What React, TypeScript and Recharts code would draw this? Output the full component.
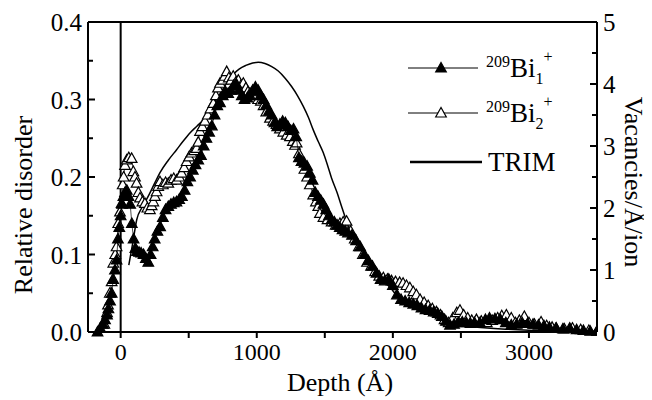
import { ComposedChart, Scatter, Line, XAxis, YAxis, ReferenceLine, Label } from 'recharts'

// depth in Å
const bi1Depth = [
  -170, -150, -130, -115, -100, -90, -78, -66, -55, -42, -30, -20, -10, 0, 10, 20, 32, 45, 58, 70,
  82, 95, 108, 120, 135, 150, 168, 185, 203, 220, 235, 250, 270, 290, 310, 330, 350, 370, 390, 410,
  430, 450, 470, 490, 510, 530, 550, 570, 590, 610, 630, 650, 670, 690, 710, 730, 750, 770, 790, 810,
  830, 850, 870, 890, 910, 930, 950, 970, 990, 1010, 1030, 1050, 1070, 1090, 1110, 1130, 1150, 1170, 1190, 1210,
  1230, 1250, 1270, 1290, 1310, 1330, 1350, 1370, 1390, 1410, 1430, 1450, 1470, 1490, 1510, 1530, 1550, 1570, 1590, 1610,
  1630, 1650, 1670, 1700, 1730, 1760, 1790, 1820, 1850, 1880, 1910, 1940, 1970, 2000, 2030, 2060, 2090, 2120, 2150, 2180,
  2210, 2240, 2270, 2300, 2330, 2360, 2390, 2420, 2450, 2480, 2510, 2540, 2570, 2600, 2640, 2680, 2710, 2750, 2790, 2830,
  2870, 2910, 2950, 2990, 3030, 3070, 3110, 3150, 3200, 3250, 3300, 3350, 3400, 3450, 3500,
]
const bi1Disorder = [
  0.0, 0.005, 0.01, 0.016, 0.022, 0.03, 0.04, 0.05, 0.068, 0.08, 0.093, 0.12, 0.135, 0.15, 0.165, 0.175, 0.18, 0.183, 0.175, 0.165,
  0.14, 0.12, 0.108, 0.104, 0.103, 0.102, 0.1, 0.095, 0.09, 0.1, 0.11, 0.12, 0.13, 0.136, 0.148, 0.158, 0.162, 0.165, 0.167, 0.168,
  0.171, 0.175, 0.183, 0.194, 0.2, 0.209, 0.216, 0.222, 0.228, 0.24, 0.25, 0.258, 0.266, 0.28, 0.292, 0.296, 0.305, 0.31, 0.308, 0.312,
  0.318, 0.32, 0.312, 0.305, 0.3, 0.302, 0.305, 0.31, 0.316, 0.312, 0.305, 0.3, 0.293, 0.285, 0.28, 0.27, 0.265, 0.268, 0.272, 0.27,
  0.265, 0.26, 0.262, 0.252, 0.225, 0.22, 0.218, 0.214, 0.205, 0.196, 0.18, 0.175, 0.17, 0.165, 0.158, 0.15, 0.145, 0.142, 0.138, 0.135,
  0.132, 0.13, 0.128, 0.125, 0.118, 0.11, 0.1, 0.092, 0.085, 0.076, 0.068, 0.066, 0.068, 0.06, 0.048, 0.042, 0.04, 0.038, 0.036, 0.034,
  0.031, 0.029, 0.028, 0.026, 0.024, 0.02, 0.014, 0.009, 0.01, 0.012, 0.013, 0.012, 0.011, 0.012, 0.012, 0.016, 0.018, 0.017, 0.016, 0.012,
  0.009, 0.01, 0.012, 0.011, 0.01, 0.009, 0.008, 0.006, 0.005, 0.004, 0.005, 0.003, 0.002, 0.001, 0.001,
]

const bi2Depth = [
  -120, -100, -93, -80, -66, -54, -40, -30, -18, -5, 7, 15, 22, 32, 44, 60, 81, 93, 105, 117,
  130, 142, 160, 178, 196, 215, 228, 240, 252, 264, 276, 289, 310, 330, 350, 370, 390, 411, 430, 448,
  466, 485, 503, 521, 540, 558, 570, 583, 600, 619, 640, 660, 681, 700, 715, 730, 750, 765, 779, 795,
  812, 827, 845, 865, 883, 901, 920, 935, 950, 970, 990, 1010, 1030, 1050, 1070, 1097, 1120, 1145, 1170, 1195,
  1220, 1244, 1265, 1281, 1293, 1310, 1330, 1350, 1370, 1390, 1415, 1435, 1452, 1464, 1490, 1520, 1550, 1580, 1611, 1635,
  1660, 1690, 1720, 1750, 1780, 1810, 1840, 1870, 1900, 1930, 1960, 1990, 2020, 2050, 2075, 2100, 2125, 2150, 2173, 2200,
  2230, 2260, 2290, 2320, 2350, 2380, 2410, 2440, 2470, 2493, 2520, 2550, 2580, 2614, 2650, 2690, 2730, 2770, 2800, 2834,
  2870, 2900, 2930, 2966, 3000, 3040, 3089, 3130, 3170, 3200, 3260, 3320, 3380, 3440, 3500,
]
const bi2Disorder = [
  0.01, 0.025, 0.035, 0.05, 0.065, 0.089, 0.1, 0.11, 0.14, 0.155, 0.166, 0.19, 0.2, 0.215, 0.222, 0.225, 0.224, 0.207, 0.2, 0.192,
  0.18, 0.173, 0.168, 0.166, 0.16, 0.158, 0.163, 0.168, 0.175, 0.181, 0.188, 0.194, 0.19, 0.193, 0.192, 0.196, 0.198, 0.196, 0.2, 0.205,
  0.212, 0.22, 0.226, 0.231, 0.234, 0.237, 0.245, 0.259, 0.265, 0.272, 0.28, 0.288, 0.295, 0.305, 0.315, 0.321, 0.325, 0.33, 0.336, 0.328,
  0.325, 0.33, 0.322, 0.325, 0.318, 0.321, 0.315, 0.31, 0.308, 0.312, 0.305, 0.3, 0.298, 0.292, 0.284, 0.276, 0.272, 0.268, 0.262, 0.258,
  0.254, 0.252, 0.246, 0.241, 0.244, 0.23, 0.22, 0.21, 0.2, 0.19, 0.177, 0.168, 0.162, 0.153, 0.148, 0.145, 0.142, 0.138, 0.14, 0.142,
  0.143, 0.13, 0.12, 0.11, 0.1, 0.09, 0.085, 0.078, 0.072, 0.07, 0.068, 0.066, 0.065, 0.064, 0.063, 0.06, 0.057, 0.052, 0.048, 0.042,
  0.038, 0.034, 0.03, 0.026, 0.022, 0.016, 0.012, 0.018, 0.025, 0.028, 0.022, 0.018, 0.015, 0.016, 0.014, 0.012, 0.015, 0.018, 0.021, 0.022,
  0.018, 0.012, 0.015, 0.02, 0.012, 0.01, 0.013, 0.008, 0.006, 0.005, 0.004, 0.005, 0.003, 0.002, 0.001,
]

// TRIM vacancies / Å / ion (right axis)
const trimDepth = [
  60, 90, 118, 160, 203, 250, 289, 350, 411, 460, 509, 560, 605, 660, 710, 760, 800, 825, 870, 920,
  970, 1011, 1060, 1110, 1158, 1210, 1256, 1300, 1342, 1380, 1415, 1450, 1489, 1520, 1550, 1590, 1624, 1655, 1685, 1734,
  1780, 1830, 1880, 1930, 1980, 2040, 2100, 2200, 2300, 2400, 2500, 2600, 2800, 3000, 3200, 3500,
]
const trimVacancies = [
  1.08, 1.45, 1.81, 2.02, 2.19, 2.4, 2.57, 2.77, 2.94, 3.08, 3.21, 3.32, 3.42, 3.6, 3.77, 3.95, 4.08, 4.15, 4.24, 4.3,
  4.34, 4.35, 4.33, 4.28, 4.21, 4.09, 3.96, 3.81, 3.64, 3.46, 3.26, 3.08, 2.89, 2.69, 2.48, 2.25, 2.02, 1.82, 1.65, 1.51,
  1.3, 1.08, 0.92, 0.82, 0.72, 0.56, 0.48, 0.38, 0.28, 0.15, 0.1, 0.08, 0.05, 0.03, 0.02, 0,
]

const xTicks = [0, 500, 1000, 1500, 2000, 2500, 3000]
const leftTicks = [0, 0.05, 0.1, 0.15, 0.2, 0.25, 0.3, 0.35, 0.4]
const rightTicks = [0, 0.5, 1, 1.5, 2, 2.5, 3, 3.5, 4, 4.5, 5]

const bi1 = bi1Depth.map((d, i) => ({ depth: d, value: bi1Disorder[i] }))
const bi2 = bi2Depth.map((d, i) => ({ depth: d, value: bi2Disorder[i] }))
const trim = trimDepth.map((d, i) => ({ depth: d, vac: trimVacancies[i] }))

const FONT = '"Liberation Serif", "Times New Roman", serif'
const txt = { fontFamily: FONT, fill: '#000' }

function triPoints(x: number, y: number) {
  return `${x},${y - 5.5} ${x - 5.3},${y + 4} ${x + 5.3},${y + 4}`
}

function triangle(filled: boolean) {
  return (p: any) => {
    const { cx, cy } = p
    if (cx == null || cy == null) return <g />
    return <polygon points={triPoints(cx, cy)} fill={filled ? '#000' : '#fff'} stroke="#000" strokeWidth={1.2} />
  }
}

function LeftTick(p: any) {
  const { x, y, payload } = p
  const v = payload.value as number
  const major = Math.abs(v * 10 - Math.round(v * 10)) < 1e-6
  return (
    <g>
      <line x1={x + 6} x2={x + 6 + (major ? 7 : 5)} y1={y} y2={y} stroke="#000" strokeWidth={2} />
      {major && (
        <text x={x} y={y} dy={9} textAnchor="end" fontSize={25} style={txt}>
          {v.toFixed(1)}
        </text>
      )}
    </g>
  )
}

function RightTick(p: any) {
  const { x, y, payload } = p
  const v = payload.value as number
  const major = Number.isInteger(v)
  return (
    <g>
      <line x1={x - 6} x2={x - 6 - (major ? 7 : 5)} y1={y} y2={y} stroke="#000" strokeWidth={2} />
      {major && (
        <text x={x} y={y} dy={9} textAnchor="start" fontSize={25} style={txt}>
          {v}
        </text>
      )}
    </g>
  )
}

// legend drawn over the plot, top-right
function LegendBox() {
  const tri = (x: number, y: number, filled: boolean) => (
    <polygon points={triPoints(x, y)} fill={filled ? '#000' : '#fff'} stroke="#000" strokeWidth={1.2} />
  )
  const name = (y: number, sub: string) => (
    <text x={86} y={y} fontSize={27} style={txt}>
      <tspan fontSize={16} dy={-10}>209</tspan>
      <tspan dy={10}>Bi</tspan>
      <tspan fontSize={16} dy={7}>{sub}</tspan>
      <tspan fontSize={16} dy={-22}>+</tspan>
    </text>
  )
  return (
    <svg width={220} height={160} style={{ position: 'absolute', left: 392, top: 30 }}>
      <line x1={8} x2={78} y1={30} y2={30} stroke="#000" strokeWidth={1} />
      {tri(41, 30, true)}
      {name(39, '1')}
      <line x1={8} x2={78} y1={75} y2={75} stroke="#000" strokeWidth={1} />
      {tri(41, 75, false)}
      {name(84, '2')}
      <line x1={10} x2={82} y1={124} y2={124} stroke="#000" strokeWidth={2.5} />
      <text x={88} y={133} fontSize={27} style={txt}>TRIM</text>
    </svg>
  )
}

function LeftTitle(p: any) {
  const vb = p.viewBox
  const cx = 15
  const cy = vb.y + vb.height / 2 + 28
  return (
    <text x={cx} y={cy} transform={`rotate(-90 ${cx} ${cy})`} textAnchor="middle" dy={9} fontSize={26} style={txt}>
      Relative disorder
    </text>
  )
}

function RightTitle(p: any) {
  const vb = p.viewBox
  const cx = 626
  const cy = vb.y + vb.height / 2 + 5
  return (
    <text x={cx} y={cy} transform={`rotate(90 ${cx} ${cy})`} textAnchor="middle" dy={9} fontSize={26} style={txt}>
      Vacancies/Å/ion
    </text>
  )
}

function BottomTitle(p: any) {
  const vb = p.viewBox
  return (
    <text x={332} y={vb.y + 59} textAnchor="middle" fontSize={26} style={txt}>
      Depth (Å)
    </text>
  )
}

export default function App() {
  return (
    <div style={{ position: 'relative', width: 644, height: 392, background: '#fff', fontFamily: FONT }}>
      <ComposedChart width={644} height={392} margin={{ top: 14, right: 8, bottom: 0, left: 0 }}>
        <XAxis
          type="number"
          dataKey="depth"
          domain={[-240, 3500]}
          ticks={xTicks}
          interval={0}
          allowDataOverflow
          height={68}
          stroke="#000"
          strokeWidth={2}
          tickSize={6}
          tickMargin={5}
          tick={{ fontSize: 24, fontFamily: FONT, fill: '#000' }}
          tickFormatter={(v: number) => (v % 1000 === 0 ? String(v) : '')}
        >
          <Label content={<BottomTitle />} />
        </XAxis>
        <YAxis
          yAxisId="left"
          type="number"
          domain={[0, 0.4]}
          ticks={leftTicks}
          interval={0}
          width={80}
          stroke="#000"
          strokeWidth={2}
          tickSize={0}
          tickMargin={6}
          tick={<LeftTick />}
        >
          <Label content={<LeftTitle />} />
        </YAxis>
        <YAxis
          yAxisId="right"
          orientation="right"
          type="number"
          domain={[0, 5]}
          ticks={rightTicks}
          interval={0}
          width={47}
          stroke="#000"
          strokeWidth={2}
          tickSize={0}
          tickMargin={6}
          tick={<RightTick />}
        >
          <Label content={<RightTitle />} />
        </YAxis>
        <ReferenceLine yAxisId="left" y={0.4} stroke="#000" strokeWidth={2} />
        <ReferenceLine yAxisId="left" x={0} stroke="#000" strokeWidth={2} />
        <Line
          yAxisId="right"
          data={trim}
          dataKey="vac"
          type="monotone"
          stroke="#000"
          strokeWidth={1.5}
          dot={false}
          isAnimationActive={false}
        />
        <Scatter
          yAxisId="left"
          data={bi2}
          dataKey="value"
          line={{ stroke: '#000', strokeWidth: 0.7 }}
          shape={triangle(false)}
          isAnimationActive={false}
        />
        <Scatter
          yAxisId="left"
          data={bi1}
          dataKey="value"
          line={{ stroke: '#000', strokeWidth: 0.7 }}
          shape={triangle(true)}
          isAnimationActive={false}
        />
      </ComposedChart>
      <LegendBox />
    </div>
  )
}
